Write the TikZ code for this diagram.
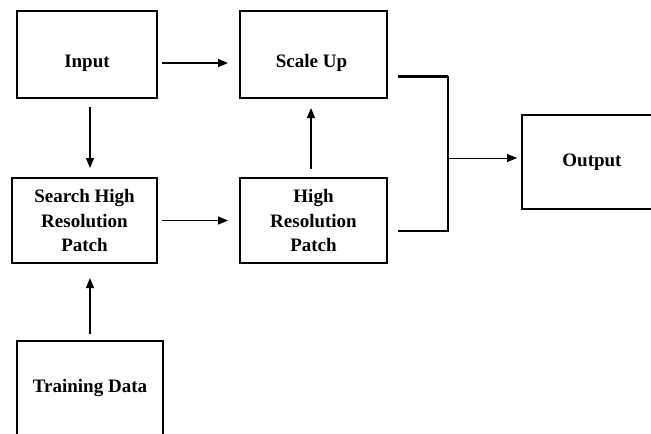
\documentclass[tikz,border=0pt]{standalone}
\usepackage{fontspec}
\setmainfont{Liberation Serif}
\usetikzlibrary{arrows.meta}
\begin{document}
\begin{tikzpicture}[x=1pt,y=-1pt,
  txt/.style={font=\fontsize{19}{24.5}\selectfont\bfseries,align=center},
  box/.style={draw=black,line width=1.4pt,outer sep=0pt,txt},
  arr/.style={line width=1.3pt,-{Triangle[length=10pt,width=8pt]}},
  ln/.style={line width=1.3pt}]
\useasboundingbox (0,0) rectangle (651,434);
\begin{scope}
\clip (0,0) rectangle (651,434);
\node[box,minimum width=140pt,minimum height=87pt,label={[txt,yshift=-8.5pt]center:Input}] (in) at (87,54.5) {};
\node[box,minimum width=147pt,minimum height=87pt,label={[txt,yshift=-8.5pt,xshift=-2pt]center:Scale Up}] (su) at (313.5,54.5) {};
\node[box,minimum width=145pt,minimum height=85pt] (sr) at (84.5,220.5) {Search High\\Resolution\\Patch};
\node[box,minimum width=147pt,minimum height=85pt] (hr) at (313.5,220.5) {High\\Resolution\\Patch};
\node[box,minimum width=140pt,minimum height=94pt] (out) at (592,162) {Output};
\node[box,minimum width=146pt,minimum height=94pt] (td) at (90,388) {Training Data};
\end{scope}
\draw[arr] ([shift={(5pt,-8.5pt)}]in.east) -- ([shift={(-12pt,-8.5pt)}]su.west);
\draw[arr] ([xshift=5pt]sr.east) -- ([xshift=-12pt]hr.west);
\draw[arr] ([shift={(3pt,-9pt)}]in.south) -- ([shift={(5.5pt,10pt)}]sr.north);
\draw[arr] ([shift={(-2.5pt,9pt)}]hr.north) -- ([shift={(-2.5pt,-10pt)}]su.south);
\draw[arr] ([yshift=7pt]td.north) -- ([shift={(5.5pt,-15pt)}]sr.south);
\coordinate (t1) at ([shift={(11pt,-21.5pt)}]su.east);
\coordinate (t2) at (448,76);
\coordinate (b1) at ([shift={(11pt,-10.5pt)}]hr.east);
\coordinate (b2) at (448,231);
\coordinate (j) at (448,158);
\draw[line width=3pt] (t1) -- (t2);
\draw[ln] (t2) -- (b2) -- (b1);
\draw[arr,line width=1pt] (j) -- ([xshift=-5pt,yshift=4pt]out.west);
\end{tikzpicture}
\end{document}
